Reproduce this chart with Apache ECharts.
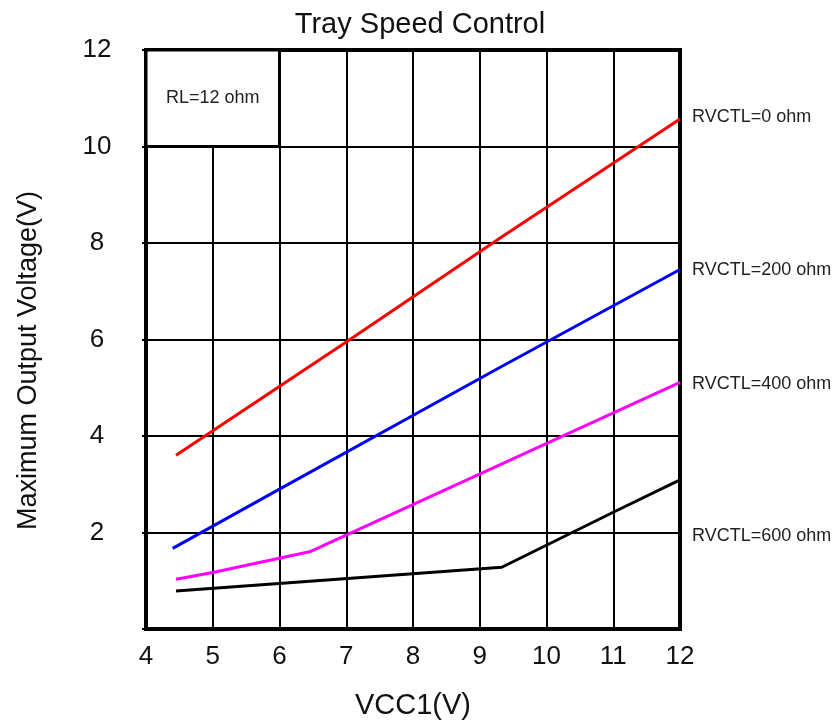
<!DOCTYPE html>
<html>
<head>
<meta charset="utf-8">
<script src="https://cdn.jsdelivr.net/npm/echarts@6/dist/echarts.min.js"></script>
<style>
  html, body { margin: 0; padding: 0; background: #fff; }
  #chart { width: 840px; height: 725px; }
</style>
</head>
<body>
<div id="chart"></div>
<script>
// curves, [VCC1, Vout]
const rv0 = [[4.45, 3.6], [7, 5.95], [9.3, 8.1], [12, 10.57]];
const rv200 = [[4.4, 1.67], [6, 2.9], [9.3, 5.42], [12, 7.45]];
const rv400 = [[4.45, 1.03], [5, 1.17], [6.45, 1.6], [9.3, 3.4], [12, 5.11]];
const rv600 = [[4.45, 0.79], [9.33, 1.28], [11, 2.42], [12, 3.09]];
const seriesNames = ['RVCTL=0 ohm', 'RVCTL=200 ohm', 'RVCTL=400 ohm', 'RVCTL=600 ohm'];
const colors = ['#ff0000', '#0000ff', '#ff00ff', '#000000'];
const labelShift = [[0, -2], [0, 0], [0, 2], [0, 56]];
// RL box in the top left corner
const boxFrom = [4, 12];
const boxTo = [6, 10];
const boxText = 'RL=12 ohm';

const chart = echarts.init(document.getElementById('chart'));
const font = 'Liberation Sans, Arial, sans-serif';

const allData = [rv0, rv200, rv400, rv600];
const series = allData.map((d, i) => ({
    name: seriesNames[i],
    type: 'line',
    data: d,
    symbol: 'none',
    lineStyle: { color: colors[i], width: 3 },
    z: 3,
    endLabel: {
        show: true,
        formatter: seriesNames[i],
        color: '#222',
        fontFamily: font,
        fontSize: 18,
        distance: 12,
        offset: labelShift[i]
    }
}));
// white box with border, covers the grid lines
series.push({
    type: 'line',
    data: [],
    markArea: {
        silent: true,
        itemStyle: { color: '#fff', borderColor: '#000', borderWidth: 3 },
        label: {
            show: true,
            position: 'inside',
            color: '#222',
            fontFamily: font,
            fontSize: 18
        },
        data: [[{ name: boxText, coord: boxFrom }, { coord: boxTo }]]
    },
    z: 2
});

const option = {
    animation: false,
    backgroundColor: '#fff',
    title: {
        text: 'Tray Speed Control',
        left: 'center',
        top: 5,
        textStyle: { fontFamily: font, fontSize: 29, fontWeight: 'normal', color: '#111' }
    },
    grid: {
        left: 146, right: 160, top: 50, bottom: 95,
        show: true, borderColor: '#000', borderWidth: 4
    },
    xAxis: {
        type: 'value',
        min: 4, max: 12, interval: 1,
        name: 'VCC1(V)',
        nameLocation: 'middle',
        nameGap: 62,
        nameTextStyle: { fontFamily: font, fontSize: 29, color: '#111' },
        axisLine: { lineStyle: { color: '#000', width: 4 } },
        axisTick: { show: false },
        axisLabel: { fontFamily: font, fontSize: 26, color: '#111', margin: 15 },
        splitLine: { lineStyle: { color: '#000', width: 2 } }
    },
    yAxis: {
        type: 'value',
        min: 0, max: 12, interval: 2,
        name: 'Maximum Output Voltage(V)',
        nameLocation: 'middle',
        nameGap: 104,
        nameTextStyle: { fontFamily: font, fontSize: 27, color: '#111', padding: [0, 42, 0, 0] },
        axisLine: { lineStyle: { color: '#000', width: 4 } },
        axisTick: { show: true, length: 4, lineStyle: { color: '#000', width: 2 } },
        axisLabel: {
            fontFamily: font, fontSize: 26, color: '#111',
            align: 'center', margin: 49,
            formatter: v => (v === 0 ? '' : v)
        },
        splitLine: { lineStyle: { color: '#000', width: 2 } }
    },
    series: series
};

chart.setOption(option);
</script>
</body>
</html>
